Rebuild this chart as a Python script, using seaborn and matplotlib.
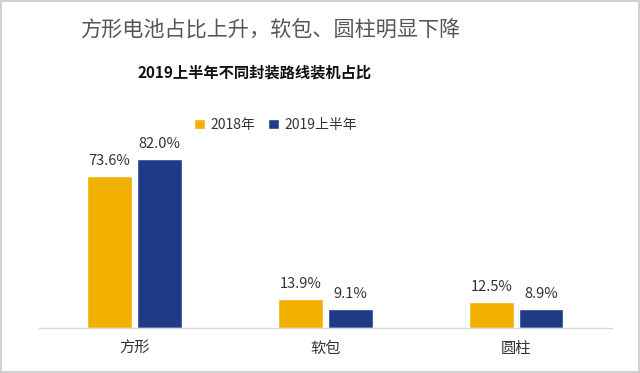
import matplotlib
matplotlib.use("Agg")
import matplotlib.pyplot as plt
import seaborn as sns
import pandas as pd

categories = ["方形", "软包", "圆柱"]
series_names = ["2018年", "2019上半年"]
values_2018 = [73.6, 13.9, 12.5]
values_2019h1 = [82.0, 9.1, 8.9]
colors = ["#F2B000", "#1F3A87"]

sns.set_theme(style="white")
plt.rcParams['font.family'] = ['Noto Sans CJK SC', 'DejaVu Sans']

df = pd.DataFrame({
    "cat": categories * 2,
    "series": [series_names[0]] * 3 + [series_names[1]] * 3,
    "val": values_2018 + values_2019h1,
})

fig = plt.figure(figsize=(6.4, 3.73), dpi=100)
fig.patch.set_facecolor("white")
fig.patch.set_edgecolor("#d0d0d0")
fig.patch.set_linewidth(1.5)

ax = fig.add_axes([0.0609, 0.1214, 0.895, 0.552])
sns.barplot(data=df, x="cat", y="val", hue="series", palette=colors,
            width=0.52, gap=0.1, ax=ax, legend=False, saturation=1)

ax.set_ylim(0, 100)
ax.set_xlim(-0.5, 2.5)
for c in ax.containers:
    ax.bar_label(c, labels=[f"{v:.1f}%" for v in c.datavalues], padding=6,
                 fontsize=10.5, color="#333333")

for s in ["top", "right", "left"]:
    ax.spines[s].set_visible(False)
ax.spines["bottom"].set_color("#d9d9d9")
ax.spines["bottom"].set_linewidth(1)
ax.set_yticks([])
ax.set_xlabel("")
ax.set_ylabel("")
ax.tick_params(axis="x", which="major", length=0, labelsize=11, labelcolor="#333333", pad=9)
ax.set_xticks([-0.5, 0.5, 1.5, 2.5], minor=True)
ax.tick_params(axis="x", which="minor", length=6, color="#d9d9d9", width=1, direction="out")

fig.text(0.422, 0.918, "方形电池占比上升，软包、圆柱明显下降", ha="center", va="center",
         fontsize=15.2, color="#555555")
fig.text(0.398, 0.805, "2019上半年不同封装路线装机占比", ha="center", va="center",
         fontsize=11, color="#111111", fontweight="bold")

from matplotlib.patches import Patch
handles = [Patch(facecolor=colors[0]), Patch(facecolor=colors[1])]
fig.legend(handles, series_names, loc="center", bbox_to_anchor=(0.431, 0.665), ncol=2,
           frameon=False, fontsize=10, handlelength=0.8, handleheight=0.8,
           handletextpad=0.4, columnspacing=0.9, labelcolor="#333333")

fig.savefig("out.png", dpi=100)
